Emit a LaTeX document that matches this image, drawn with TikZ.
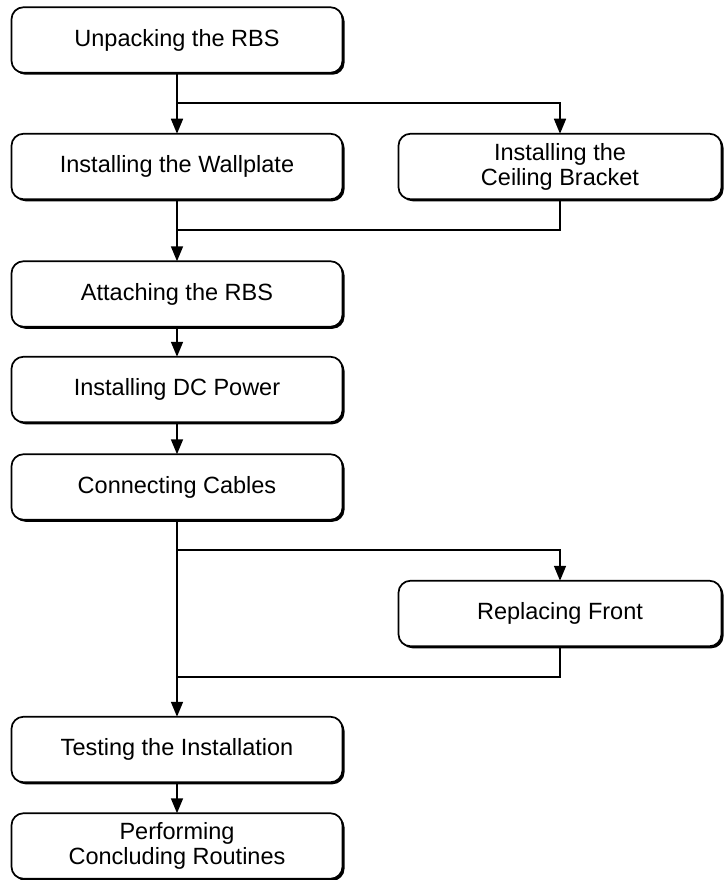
\documentclass[tikz,border=0pt]{standalone}
\usepackage{fontspec}
\setmainfont{Liberation Sans}
\usetikzlibrary{arrows.meta,positioning,calc,shadows}

\begin{document}
\begin{tikzpicture}[
node distance=61pt and 57.5pt,
every node/.style={font=\fontsize{23.5}{25}\selectfont},
box/.style={draw=black,line width=1.7pt,rounded corners=12pt,align=center,
minimum width=331pt,minimum height=65.5pt,inner sep=0pt,outer sep=0pt,fill=white,
drop shadow={shadow xshift=2pt,shadow yshift=-2pt,opacity=1,fill=black}},
sidebox/.style={box,minimum width=323pt},
line/.style={line width=1.7pt,draw=black},
arr/.style={line,-{Triangle[length=15pt,width=12pt]}}
]
\useasboundingbox (0,0) rectangle (724pt,-880pt);

\node[box] (unpack) at (177pt,-40pt) {Unpacking the RBS};
\node[box,below=of unpack] (wall) {Installing the Wallplate};
\node[sidebox,right=56pt of wall] (ceil) {Installing the\\ Ceiling Bracket};
\node[box,below=62pt of wall] (attach) {Attaching the RBS};
\node[box,below=30pt of attach] (power) {Installing DC Power};
\node[box,below=32pt of power] (conn) {Connecting Cables};
\node[sidebox,below right=61pt and 56pt of conn.south east,anchor=north west] (repl) {Replacing Front};
\node[box,below=197pt of conn] (test) {Testing the Installation};
\node[box,below=31pt of test] (perf) {Performing\\ Concluding Routines};

% branch points
\coordinate (split1) at ($(unpack.south)!0.5!(wall.north)$);
\coordinate (join1) at ($(wall.south)!0.5!(attach.north)$);
\coordinate (split2) at ($(conn.south)!0.5!(conn.south |- repl.north)$);
\coordinate (join2) at ($(test.north)+(0,40pt)$);

\draw[arr] (unpack) -- (wall);
\draw[arr] (split1) -| (ceil.north);
\draw[line] (ceil.south) |- (join1);
\draw[arr] (wall) -- (attach);
\draw[arr] (attach) -- (power);
\draw[arr] (power) -- (conn);
\draw[arr] (conn) -- (test);
\draw[arr] (split2) -| (repl.north);
\draw[line] (repl.south) |- (join2);
\draw[arr] (test) -- (perf);
\end{tikzpicture}
\end{document}
